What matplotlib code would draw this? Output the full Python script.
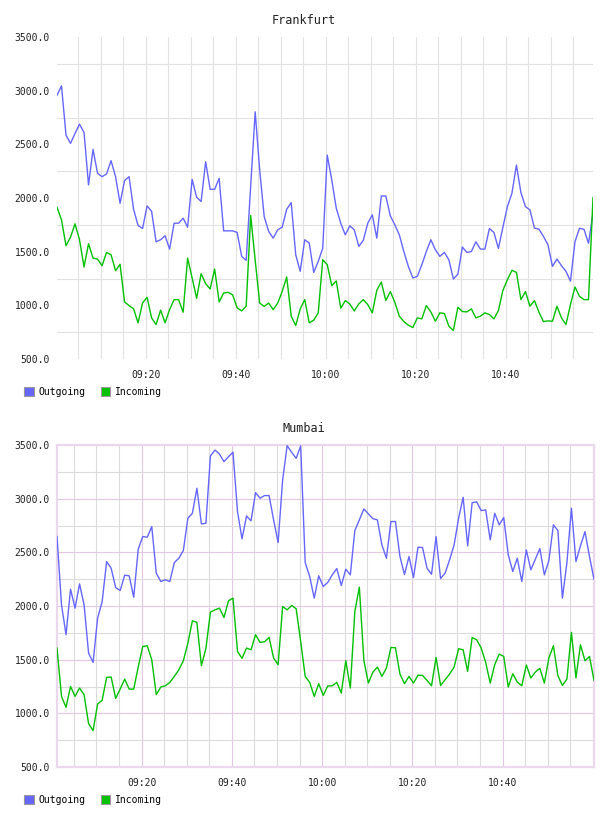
import matplotlib
matplotlib.use('Agg')
import matplotlib.pyplot as plt
import matplotlib.dates as mdates
from matplotlib.patches import Patch
import pandas as pd

# Datos (un punto por minuto)
frankfurt_out = [
    2957, 3044, 2586, 2509, 2601, 2688, 2611, 2122, 2453, 2230,
    2199, 2224, 2348, 2199, 1951, 2162, 2199, 1895, 1744, 1716,
    1926, 1877, 1592, 1611, 1648, 1524, 1765, 1765, 1812, 1728,
    2174, 2007, 1967, 2338, 2081, 2081, 2183, 1694, 1694, 1694,
    1679, 1456, 1419, 2110, 2803, 2261, 1827, 1688, 1626, 1704,
    1728, 1895, 1957, 1471, 1317, 1611, 1580, 1307, 1409, 1533,
    2400, 2168, 1905, 1765, 1657, 1741, 1704, 1549, 1605, 1765,
    1843, 1626, 2019, 2019, 1834, 1750, 1657, 1502, 1363, 1255,
    1270, 1378, 1502, 1611, 1518, 1456, 1493, 1425, 1245, 1289,
    1543, 1493, 1502, 1592, 1524, 1524, 1716, 1679, 1530, 1728,
    1920, 2044, 2307, 2050, 1920, 1889, 1719, 1710, 1642, 1564,
    1363, 1431, 1369, 1317, 1225, 1593, 1718, 1708, 1578, 1857]
frankfurt_in = [
    1914, 1796, 1555, 1635, 1759, 1611, 1357, 1574, 1440, 1431,
    1369, 1493, 1471, 1323, 1382, 1032, 998, 967, 837, 1023,
    1075, 883, 821, 955, 837, 961, 1053, 1053, 936, 1440,
    1255, 1066, 1295, 1202, 1152, 1338, 1032, 1115, 1121, 1097,
    976, 948, 992, 1837, 1420, 1021, 990, 1021, 960, 1021,
    1130, 1264, 899, 812, 967, 1053, 837, 862, 930, 1425,
    1379, 1183, 1227, 973, 1044, 1013, 948, 1013, 1053, 1007,
    930, 1140, 1217, 1044, 1128, 1029, 899, 849, 815, 793,
    883, 874, 998, 939, 852, 930, 924, 806, 765, 982,
    942, 939, 967, 883, 899, 930, 914, 874, 951, 1140,
    1239, 1326, 1307, 1053, 1128, 992, 1044, 936, 849, 855,
    852, 992, 883, 821, 1007, 1171, 1084, 1053, 1053, 2004]
mumbai_out = [
    2647, 2011, 1732, 2157, 1980, 2206, 2011, 1561, 1474, 1887,
    2039, 2414, 2352, 2172, 2144, 2287, 2281, 2082, 2529, 2647,
    2641, 2740, 2306, 2228, 2244, 2228, 2405, 2445, 2517, 2818,
    2864, 3097, 2765, 2771, 3398, 3453, 3416, 3345, 3391, 3432,
    2880, 2625, 2839, 2793, 3056, 3004, 3029, 3029, 2802, 2591,
    3174, 3494, 3432, 3376, 3491, 2405, 2275, 2073, 2281, 2182,
    2220, 2290, 2349, 2191, 2343, 2290, 2703, 2802, 2904, 2858,
    2814, 2802, 2569, 2445, 2787, 2787, 2461, 2293, 2461, 2265,
    2548, 2545, 2352, 2296, 2647, 2256, 2306, 2430, 2569, 2818,
    3013, 2560, 2963, 2970, 2889, 2895, 2616, 2864, 2756, 2824,
    2476, 2321, 2445, 2228, 2523, 2337, 2436, 2535, 2290, 2424,
    2756, 2703, 2073, 2405, 2911, 2414, 2560, 2693, 2461, 2250]
mumbai_in = [
    1608, 1158, 1056, 1251, 1158, 1236, 1174, 904, 839, 1087,
    1121, 1335, 1338, 1139, 1226, 1319, 1226, 1226, 1431, 1623,
    1630, 1499, 1174, 1245, 1257, 1288, 1344, 1406, 1490, 1654,
    1862, 1847, 1443, 1605, 1943, 1964, 1980, 1893, 2048, 2073,
    1577, 1512, 1608, 1592, 1732, 1661, 1667, 1707, 1515, 1453,
    1996, 1964, 2005, 1974, 1670, 1344, 1288, 1158, 1276, 1167,
    1255, 1257, 1288, 1189, 1490, 1236, 1949, 2175, 1493, 1282,
    1384, 1431, 1344, 1422, 1614, 1611, 1366, 1276, 1344, 1282,
    1356, 1353, 1307, 1257, 1521, 1260, 1313, 1366, 1431, 1602,
    1592, 1391, 1707, 1685, 1608, 1474, 1282, 1453, 1552, 1530,
    1245, 1369, 1291, 1257, 1450, 1329, 1384, 1419, 1282, 1515,
    1630, 1350, 1260, 1319, 1754, 1329, 1639, 1490, 1530, 1307]

frankfurt_start = '2012-01-01 09:00:20'
mumbai_start = '2012-01-01 09:01:15'
series_names = ['Outgoing', 'Incoming']
colores = ['#6666ff', '#00c000']

# marcas del eje x: etiquetas cada 20 min, rejilla cada 5 min
marcas = pd.date_range('2012-01-01 09:20', '2012-01-01 10:40', freq='20min')
marcas_menores = pd.date_range('2012-01-01 09:05', '2012-01-01 10:55', freq='5min')

plt.rcParams['font.family'] = ['DejaVu Sans Mono']

fig = plt.figure(figsize=(6.08, 8.16), dpi=100)


def dibujar(rect, titulo, inicio, salida, entrada, estilo_mumbai, y_titulo, y_leyenda):
    ax = fig.add_axes(rect)
    tiempos = pd.date_range(inicio, periods=len(salida), freq='1min')
    ax.plot(tiempos, salida, color=colores[0], lw=1.0, zorder=3)
    ax.plot(tiempos, entrada, color=colores[1], lw=1.0, zorder=3)
    ax.set_xlim(tiempos[0], tiempos[-1])
    ax.set_ylim(500, 3500)

    ax.set_xticks(marcas)
    ax.set_xticks(marcas_menores, minor=True)
    ax.xaxis.set_major_formatter(mdates.DateFormatter('%H:%M'))
    ax.set_yticks(range(500, 3501, 500))
    ax.set_yticks(range(750, 3500, 500), minor=True)
    ax.yaxis.set_major_formatter(lambda v, p: '%.1f' % v)
    ax.tick_params(which='both', length=0, labelsize=7, colors='#222222')
    ax.tick_params(axis='x', pad=8)
    ax.tick_params(axis='y', pad=5)

    if estilo_mumbai:
        ax.grid(which='major', color='#e2c8e2', lw=0.8, zorder=1)
        ax.grid(which='minor', color='#dcdcdc', lw=0.8, zorder=1)
        for s in ax.spines.values():
            s.set_color('#ecd8ec')
            s.set_linewidth(1.6)
    else:
        ax.grid(which='minor', color='#e2e2e2', lw=0.8, zorder=1)
        ax.grid(which='major', axis='x', color='#e2e2e2', lw=0.8, zorder=1)
        for s in ax.spines.values():
            s.set_visible(False)

    fig.text(0.5, y_titulo, titulo, ha='center', va='center', fontsize=8.5, color='#222222')

    handles = [Patch(facecolor=c, edgecolor='#999999', lw=0.8) for c in colores]
    fig.legend(handles, series_names, loc='center left', bbox_to_anchor=(24 / 608, y_leyenda),
               ncol=2, frameon=False, fontsize=7, handlelength=1.0, handleheight=1.0,
               handletextpad=0.45, columnspacing=1.6, borderpad=0, borderaxespad=0)
    return ax


dibujar([57 / 608, 1 - 359 / 816, 536 / 608, 322 / 816], 'Frankfurt', frankfurt_start,
        frankfurt_out, frankfurt_in, False, 1 - 20 / 816, 1 - 392 / 816)
dibujar([57 / 608, 1 - 767 / 816, 537 / 608, 322 / 816], 'Mumbai', mumbai_start,
        mumbai_out, mumbai_in, True, 1 - 428 / 816, 1 - 800 / 816)

plt.savefig('out.png', dpi=100)
